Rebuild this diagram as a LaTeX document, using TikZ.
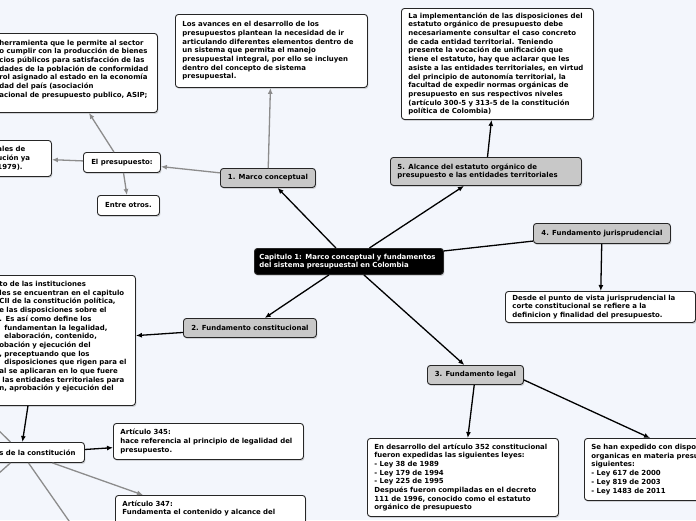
\documentclass[tikz,border=0pt]{standalone}
\usepackage{fontspec}
\setmainfont{DejaVu Sans}
\usetikzlibrary{arrows.meta,shadows}

\definecolor{bgcol}{RGB}{243,246,252}
\definecolor{topicgray}{RGB}{200,200,200}
\definecolor{linkgray}{RGB}{140,140,140}
\newcommand{\boxfont}{\bfseries\fontsize{6.95}{8.7}\selectfont}

\tikzset{
  box/.style={draw=black!85, line width=0.9pt, rounded corners=3pt, fill=white,
    anchor=north west, align=left, inner xsep=7pt, inner ysep=2pt, font=\boxfont,
    drop shadow={shadow xshift=1pt, shadow yshift=-1.5pt, opacity=0.3}},
  topic/.style={box, fill=topicgray, align=center},
  root/.style={box, fill=black, text=white},
  link/.style={->, line width=1.3pt},
  glink/.style={link, draw=linkgray},
}

\begin{document}
\begin{tikzpicture}[x=1pt, y=-1pt, >={Latex[length=6pt,width=5pt]}]
\path[use as bounding box, fill=bgcol] (0,0) rectangle (696,520);
\clip (0,0) rectangle (696,520);

% centro
\node[root, inner xsep=5pt, text width=179pt, minimum height=26pt] (central) at (254,248)
  {Capitulo 1: Marco conceptual y fundamentos\\del sistema presupuestal en Colombia};

% 1. marco conceptual
\node[topic, minimum width=95pt, minimum height=19pt] (marco) at (220,168) {1. Marco conceptual};
\node[box, text width=178pt, minimum height=73pt] (avances) at (175,14)
  {Los avances en el desarrollo de los\\
   presupuestos plantean la necesidad de ir\\
   articulando diferentes elementos dentro de\\
   un sistema que permita el manejo\\
   presupuestal integral, por ello se incluyen\\
   dentro del concepto de sistema\\
   presupuestal.};
\node[box, minimum width=77pt, minimum height=20pt, align=center] (presup) at (83,152) {El presupuesto:};
\node[box, minimum width=62pt, minimum height=20pt, align=center] (otros) at (97,195) {Entre otros.};
\node[box, text width=151pt, minimum height=79pt] (herram) at (-8,33)
  {herramienta que le permite al sector\\
   o cumplir con la producción de bienes\\
   cios públicos para satisfacción de las\\
   dades de la población de conformidad\\
   rol asignado al estado en la economía\\
   dad del país (asociación\\
   acional de presupuesto publico, ASIP;\\
   \mbox{}};
\node[box, text width=47pt, minimum height=36pt] (ley79) at (-10,140)
  {ales de\\ución ya\\1979).};

% 5. alcance
\node[topic, text width=177pt, minimum height=28pt, align=left] (alcance) at (390,157)
  {5. Alcance del estatuto orgánico de\\presupuesto e las entidades territoriales};
\node[box, text width=178pt, minimum height=111pt] (estatuto) at (401,8)
  {La implementanción de las disposiciones del\\
   estatuto orgánico de presupuesto debe\\
   necesariamente consultar el caso concreto\\
   de cada entidad territorial. Teniendo\\
   presente la vocación de unificación que\\
   tiene el estatuto, hay que aclarar que les\\
   asiste a las entidades territoriales, en virtud\\
   del principio de autonomía territorial, la\\
   facultad de expedir normas orgánicas de\\
   presupuesto en sus respectivos niveles\\
   (artículo 300-5 y 313-5 de la constitución\\
   política de Colombia)};

% 4. fundamento jurisprudencial
\node[topic, minimum width=137pt, minimum height=20pt] (juris) at (533,223) {4. Fundamento jurisprudencial};
\node[box, text width=176pt, minimum height=31pt] (desde) at (505,291)
  {Desde el punto de vista jurisprudencial la\\
   corte constitucional se refiere a la\\
   definicion y finalidad del presupuesto.};

% 2. fundamento constitucional
\node[topic, minimum width=133pt, minimum height=19pt] (constit) at (183,318) {2. Fundamento constitucional};
\node[box, text width=129pt, minimum height=130pt] (capitulo) at (-8,275)
  {to de las instituciones\\
   les se encuentran en el capitulo\\
   CII de la constitución política,\\
   e las disposiciones sobre el\\
   . Es así como define los\\
   \hspace*{5pt}fundamentan la legalidad,\\
   \hspace*{5pt}elaboración, contenido,\\
   obación y ejecución del\\
   , preceptuando que los\\
   \hspace*{5pt}disposiciones que rigen para el\\
   al se aplicaran en lo que fuere\\
   \hspace*{3pt}las entidades territoriales para\\
   n, aprobación y ejecución del\\
   \mbox{}};
\node[box, inner xsep=5pt, text width=80pt, minimum height=20pt] (articulos) at (-6,442) {s de la constitución};
\node[box, text width=176pt, minimum height=36pt] (art345) at (113,423)
  {Artículo 345:\\
   hace referencia al principio de legalidad del\\
   presupuesto.};
\node[box, text width=176pt, minimum height=33pt] (art347) at (115,495)
  {Artículo 347:\\
   Fundamenta el contenido y alcance del\\
   \mbox{}};
\coordinate (c1) at (-12,420);
\coordinate (c2) at (-12,483);
\coordinate (c3) at (76,531);

% 3. fundamento legal
\node[topic, minimum width=96pt, minimum height=19pt] (legal) at (427,365) {3. Fundamento legal};
\node[box, text width=177pt, minimum height=78pt] (desarrollo) at (367,438)
  {En desarrollo del artículo 352 constitucional\\
   fueron expedidas las siguientes leyes:\\
   - Ley 38 de 1989\\
   - Ley 179 de 1994\\
   - Ley 225 de 1995\\
   Después fueron compiladas en el decreto\\
   111 de 1996, conocido como el estatuto\\
   orgánico de presupuesto};
\node[box, text width=206pt, minimum height=62pt] (leyes) at (584,438)
  {Se han expedido con disposiciones\\
   organicas en materia presupuestal las\\
   siguientes:\\
   - Ley 617 de 2000\\
   - Ley 819 de 2003\\
   - Ley 1483 de 2011};

% conectores
\draw[link] (central) -- (marco);
\draw[link] (central) -- (alcance);
\draw[line width=1.3pt] (central) -- (juris);
\draw[link] (central) -- (constit);
\draw[link] (central) -- (legal);
\draw[link] (alcance) -- (estatuto);
\draw[link] (juris) -- (desde);
\draw[glink] (marco) -- (avances);
\draw[glink] (marco) -- (presup);
\draw[glink] ([xshift=-8pt]presup.north) -- ([xshift=14pt]herram.south);
\draw[glink] (presup) -- (ley79);
\draw[glink] (presup) -- (otros);
\draw[link] (constit) -- (capitulo);
\draw[link] ([xshift=-36pt]capitulo.south) -- ([xshift=-17pt]articulos.north);
\draw[link] (articulos) -- (art345);
\draw[glink] ([xshift=13pt]articulos.south) -- ([xshift=28pt]art347.north west);
\draw[draw=linkgray, line width=1.3pt] ([xshift=-29pt]articulos.north) -- (c1);
\draw[draw=linkgray, line width=1.3pt] ([xshift=-29pt]articulos.south) -- (c2);
\draw[draw=linkgray, line width=1.3pt] ([xshift=-11pt]articulos.south) -- (c3);
\draw[link] (legal) -- (desarrollo);
\draw[link] ([yshift=-5pt]legal.east) -- ([xshift=66pt]leyes.north west);
\end{tikzpicture}
\end{document}
